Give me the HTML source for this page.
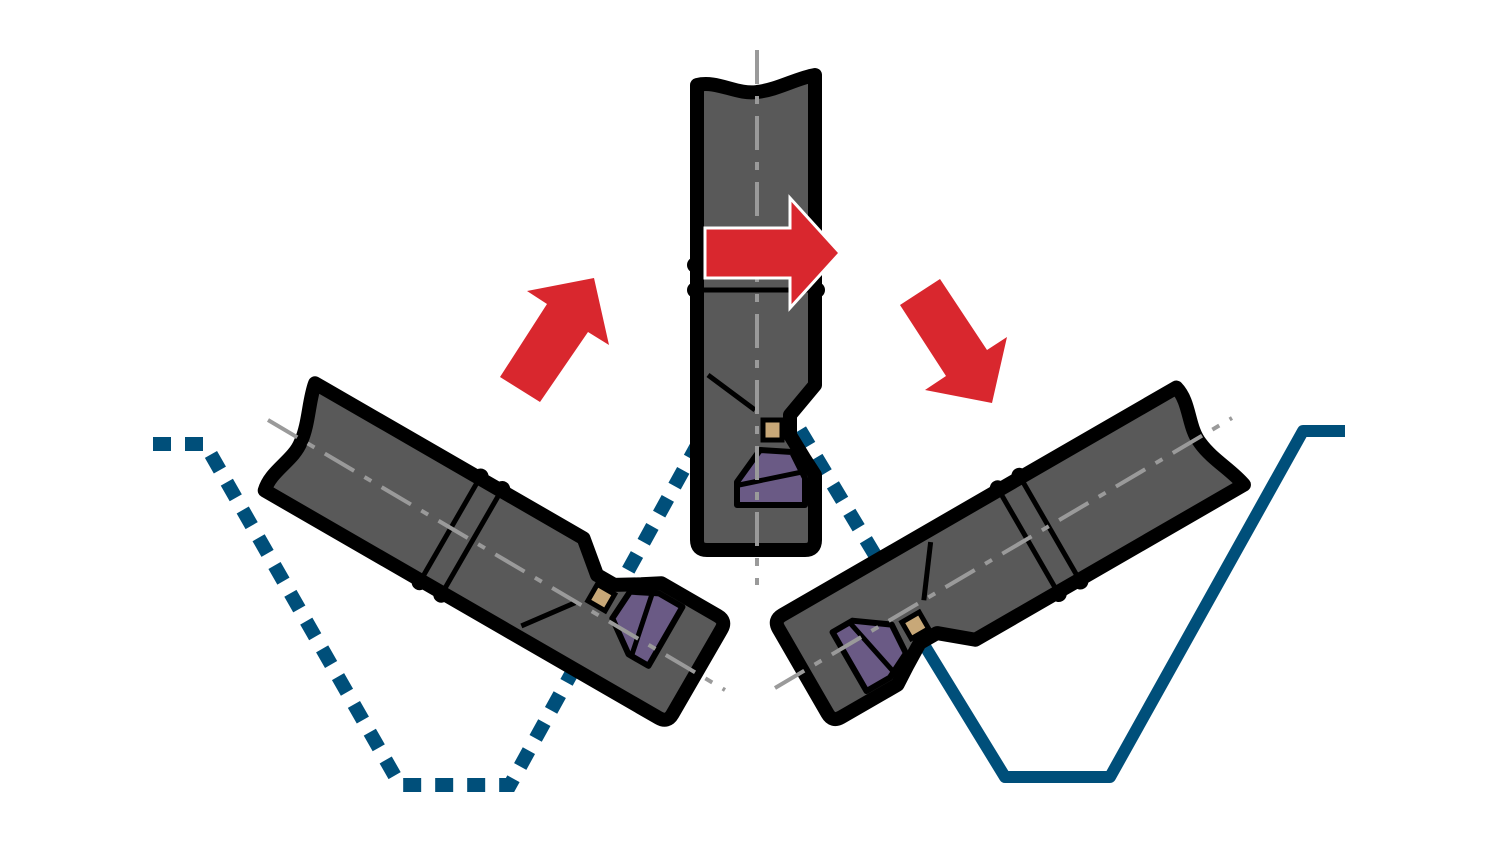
<!DOCTYPE html>
<html><head><meta charset="utf-8"><style>html,body{margin:0;padding:0;background:#fff;width:1500px;height:844px;overflow:hidden}</style></head>
<body>
<svg width="1500" height="844" viewBox="0 0 1500 844" xmlns="http://www.w3.org/2000/svg">
<defs>
<g id="tool">
  <path d="M -60,-345 C -40,-350 -20,-335 0,-338 C 20,-340 40,-352 58,-355 L 58,-45 L 33,-15 L 33,5 L 47,28 L 58,45 L 58,110 Q 58,120 48,120 L -50,120 Q -60,120 -60,110 Z" fill="#595959" stroke="#000" stroke-width="14" stroke-linejoin="round"/>
  <line x1="-60" y1="-165" x2="58" y2="-165" stroke="#000" stroke-width="5"/>
  <line x1="-60" y1="-140" x2="58" y2="-140" stroke="#000" stroke-width="5"/>
  <circle cx="-62" cy="-165" r="8" fill="#000"/><circle cx="60" cy="-165" r="8" fill="#000"/>
  <circle cx="-62" cy="-140" r="8" fill="#000"/><circle cx="60" cy="-140" r="8" fill="#000"/>
  <line x1="-49" y1="-55" x2="-2" y2="-20" stroke="#000" stroke-width="5"/>
  <path d="M -20,52 L -20,75 L 48,75 L 48,48 L 35,22 L 3,20 Z" fill="#6a5a85" stroke="#000" stroke-width="6" stroke-linejoin="round"/>
  <line x1="-18" y1="55" x2="45" y2="42" stroke="#000" stroke-width="5"/>
  <rect x="6" y="-10" width="19" height="20" fill="#c8a878" stroke="#000" stroke-width="5"/>
</g>
</defs>
<polyline points="153,444 205,444 400,785 510,785 700,440" fill="none" stroke="#004f7a" stroke-width="14" stroke-dasharray="18,14"/>
<line x1="800" y1="430" x2="878" y2="560" stroke="#004f7a" stroke-width="14" stroke-dasharray="18,14"/>
<polyline points="1345,431 1303,431 1110,777 1005,777 915,630" fill="none" stroke="#004f7a" stroke-width="12" stroke-linejoin="round"/>
<use href="#tool" transform="translate(593.5,611) rotate(-60)"/>
<use href="#tool" transform="translate(907.5,612) rotate(60)"/>
<use href="#tool" transform="translate(757,430)"/>
<line x1="757" y1="50" x2="757" y2="585" stroke="#9a9a9a" stroke-width="4" stroke-dasharray="34,12,8,12"/>
<line x1="268" y1="420" x2="725" y2="690" stroke="#9a9a9a" stroke-width="4" stroke-dasharray="34,12,8,12"/>
<line x1="775" y1="688" x2="1232" y2="418" stroke="#9a9a9a" stroke-width="4" stroke-dasharray="34,12,8,12"/>
<polygon points="705,228 790,228 790,198 840,253 790,308 790,278 705,278" fill="#d9272e" stroke="#fff" stroke-width="3"/>
<polygon points="500,377 540,402 588,332 609,345 594,278 527,291 547,304" fill="#d9272e"/>
<polygon points="900,305 940,279 987,350 1007,337 992,403 925,390 946,376" fill="#d9272e"/>
</svg>
</body></html>
